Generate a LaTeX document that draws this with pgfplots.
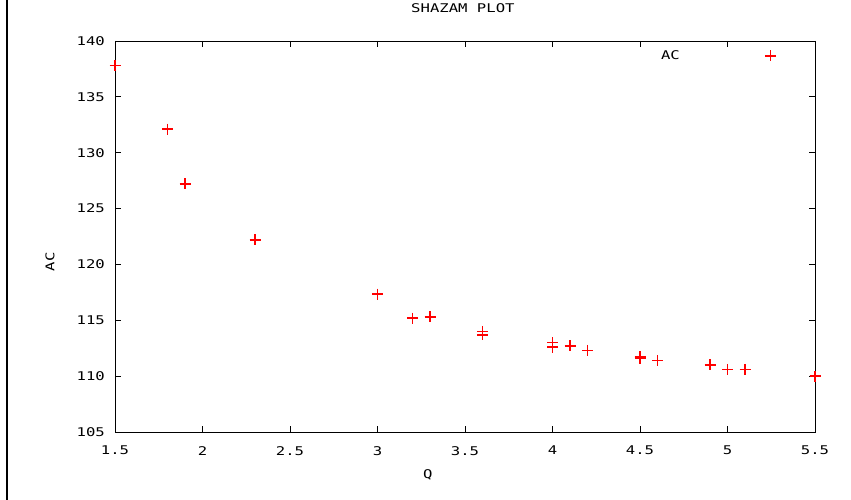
\documentclass[border=0pt]{standalone}
\usepackage{fontspec}
\setmainfont{DejaVu Sans Mono}[FakeStretch=1.3]
\usepackage{pgfplots}
\pgfplotsset{compat=1.18}

\begin{document}
\fontsize{12pt}{14pt}\selectfont
\begin{tikzpicture}[x=1pt,y=1pt]
\useasboundingbox (0,0) rectangle (851,500);
\draw[line width=1.4pt] (7,0) -- (7,500);
\begin{axis}[
  at={(115pt,68pt)}, anchor=south west,
  scale only axis, width=700pt, height=391pt,
  xmin=1.5, xmax=5.5, ymin=105, ymax=140,
  xtick={1.5,2,...,5.5}, ytick={105,110,...,140},
  tick align=inside, major tick length=6pt, minor tick num=0,
  axis line style={line width=0.9pt}, tick style={line width=0.9pt, black},
  /pgf/number format/assume math mode=true,
  /pgf/number format/.cd, fixed, precision=1, /pgfplots/.cd,
  ticklabel style={font=\fontsize{12pt}{14pt}\selectfont},
  yticklabel style={xshift=-6pt},
  xticklabel style={yshift=-10pt},
  clip=false,
  title={SHAZAM PLOT},
  title style={at={(axis description cs:0.497,1.046)}, yshift=0pt},
  xlabel={Q},
  xlabel style={at={(axis description cs:0.447,-0.11)}, anchor=center},
  ylabel={AC},
  ylabel style={at={(axis description cs:-0.093,0.435)}, anchor=center},
  legend plot pos=right,
  legend image code/.code={\path (0pt,0pt) (95pt,0pt);
    \draw[#1] plot[only marks, mark=+] coordinates {(88pt,0pt)};},
  legend style={draw=none, fill=none, inner sep=0pt, at={(axis description cs:0.948,0.962)}, anchor=east},
]
\addplot[only marks, mark=+, mark size=5.5pt, color=red, line width=1.6pt] coordinates {
(1.5,137.8) (1.8,132.1) (1.9,127.2) (2.3,122.2) (3.0,117.35)
(3.2,115.2) (3.3,115.3) (3.6,114.0) (3.6,113.7)
(4.0,113.0) (4.0,112.6) (4.1,112.7) (4.2,112.3)
(4.5,111.75) (4.5,111.6) (4.6,111.4) (4.9,111.0)
(5.0,110.6) (5.1,110.6) (5.5,110.0)
};
\legend{AC}
\end{axis}
\end{tikzpicture}
\end{document}
